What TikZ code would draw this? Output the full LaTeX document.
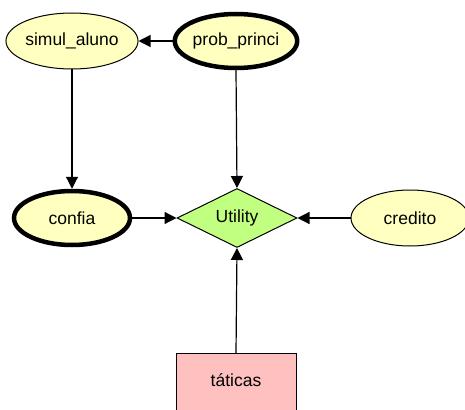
\documentclass[tikz,border=0pt]{standalone}
\usepackage{fontspec}
\setmainfont{Liberation Sans}
\usetikzlibrary{arrows.meta,shapes.geometric}
\definecolor{chancefill}{HTML}{FFFFC0}
\definecolor{utilfill}{HTML}{C0FF80}
\definecolor{decfill}{HTML}{FFC0C0}
\begin{document}
\begin{tikzpicture}[x=1pt,y=-1pt,
  every node/.style={font=\fontsize{17.5}{20}\selectfont, inner sep=0pt},
  chance/.style={ellipse, draw=black, fill=chancefill, line width=1pt,
    minimum width=118pt, minimum height=56pt},
  boldchance/.style={chance, line width=4.5pt, minimum width=116pt, minimum height=54pt},
  utilnode/.style={diamond, draw=black, fill=utilfill, line width=1pt,
    aspect=2.03, minimum width=120pt, minimum height=59pt},
  decnode/.style={rectangle, draw=black, fill=decfill, line width=1pt,
    minimum width=120pt, minimum height=62pt, text height=12pt, text depth=8pt},
  link/.style={draw=black, line width=1.2pt, -{Triangle[length=12pt,width=12pt]}}]
  \useasboundingbox (0,0) rectangle (465,409);
  % nodes
  \node[chance]     (simul)  at (72,41)   {simul\_aluno};
  \node[boldchance] (prob)   at (236,41)  {prob\_princi};
  \node[boldchance] (confia) at (72,218)  {confia};
  \node[utilnode]   (util)   at (237,218) {Utility};
  \node[chance]     (cred)   at (410,218) {credito};
  \node[decnode, anchor=north] (tat) at (236,353) {táticas};
  % links
  \draw[link] (prob) -- (simul);
  \draw[link] (simul) -- (confia);
  \draw[link] (prob.south) -- (util.north);
  \draw[link] (confia) -- (util);
  \draw[link] (cred) -- (util);
  \draw[link] (tat.north) -- (util.south);
\end{tikzpicture}
\end{document}
